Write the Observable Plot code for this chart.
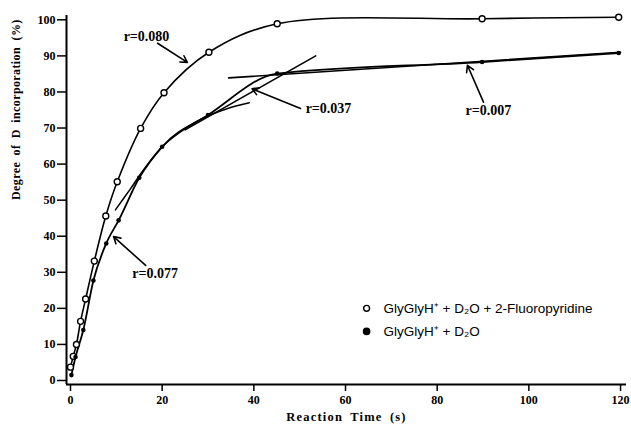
<!DOCTYPE html>
<html>
<head>
<meta charset="utf-8">
<script src="https://cdn.jsdelivr.net/npm/d3@7"></script>
<script src="https://cdn.jsdelivr.net/npm/@observablehq/plot@0.6"></script>
<style>
  body { margin: 0; background: #fff; }
  #chart svg { display: block; }
  .xttl { letter-spacing: 1.2px; word-spacing: 3px; }
  .yttl { letter-spacing: 0.4px; word-spacing: 3px; }
</style>
</head>
<body>
<div id="chart"></div>
<script>
// --- Data ---
// Open circles: GlyGlyH+ + D2O + 2-Fluoropyridine
const openTime  = [0, 0.6, 1.3, 2.2, 3.3, 5.2, 7.7, 10.2, 15.3, 20.4, 30.2, 45.1, 89.8, 119.6];
const openValue = [3.7, 6.7, 10, 16.4, 22.6, 33.1, 45.6, 55.1, 69.9, 79.8, 91, 98.9, 100.3, 100.7];
// Filled dots: GlyGlyH+ + D2O
const fillTime  = [0.2, 1.1, 2.8, 5, 7.8, 10.5, 15, 20, 30, 45.1, 89.8, 119.6];
const fillValue = [1.5, 6.5, 14, 27.7, 38, 44.4, 56.2, 64.8, 73.6, 85.1, 88.3, 90.8];
// Intermediate-stage fitted curve
const midTime  = [9.8, 13, 16, 20, 25, 29, 34, 39];
const midValue = [47.3, 53, 58.5, 64.8, 69.8, 72.8, 75.3, 77];
// Tangent lines
const tan037Time  = [25, 53.5];
const tan037Value = [69.5, 90];
const tan007Time  = [34.5, 120];
const tan007Value = [83.9, 91];
// Rate labels with arrows (text anchor point, arrow start, arrow end)
const rateLabels = ["r=0.080", "r=0.037", "r=0.007", "r=0.077"];
const labelX = [11.6, 51.3, 86.2, 13.5];
const labelY = [95.4, 75.4, 74.9, 29.7];
const arrowX1 = [19, 50.2, 90.1, 16.4];
const arrowY1 = [93.5, 75.4, 77.2, 31.9];
const arrowX2 = [25.5, 39.6, 86.6, 9.4];
const arrowY2 = [88.2, 80.9, 87.4, 39.9];
const legendLabels = ["GlyGlyH\u207A + D\u2082O + 2-Fluoropyridine", "GlyGlyH\u207A + D\u2082O"];
const xTicks = [0, 20, 40, 60, 80, 100, 120];
const yTicks = [0, 10, 20, 30, 40, 50, 60, 70, 80, 90, 100];

const zip = (xs, ys) => xs.map((x, i) => ({x, y: ys[i]}));
const openData = zip(openTime, openValue);
const fillData = zip(fillTime, fillValue);
const midData = zip(midTime, midValue);
const tan037 = zip(tan037Time, tan037Value);
const tan007 = zip(tan007Time, tan007Value);
const rates = rateLabels.map((t, i) => ({t, x: labelX[i], y: labelY[i], x1: arrowX1[i], y1: arrowY1[i], x2: arrowX2[i], y2: arrowY2[i]}));

const xmin = -0.87, ymin = -1.11;
const serif = "Liberation Serif, Times New Roman, serif";

const plot = Plot.plot({
  width: 631,
  height: 429,
  marginLeft: 66,
  marginRight: 5,
  marginTop: 15,
  marginBottom: 45,
  style: {fontFamily: serif, background: "#fff", color: "#000"},
  x: {domain: [xmin, 121.3]},
  y: {domain: [ymin, 101.2]},
  marks: [
    Plot.axisX({ticks: xTicks, tickSize: 7, tickPadding: 4, label: null, fontSize: 12, fontWeight: "bold", strokeWidth: 1.5}),
    Plot.axisY({ticks: yTicks, tickSize: 9, tickPadding: 2, label: null, fontSize: 12, fontWeight: "bold", strokeWidth: 1.5}),
    Plot.ruleX([xmin], {strokeWidth: 2}),
    Plot.ruleY([ymin], {strokeWidth: 2}),
    Plot.line(openData, {x: "x", y: "y", curve: "catmull-rom", strokeWidth: 1.6}),
    Plot.line(fillData, {x: "x", y: "y", curve: "monotone-x", strokeWidth: 1.8}),
    Plot.line(midData, {x: "x", y: "y", curve: "catmull-rom", strokeWidth: 1.5}),
    Plot.line(tan037, {x: "x", y: "y", strokeWidth: 1.6}),
    Plot.line(tan007, {x: "x", y: "y", strokeWidth: 1.6}),
    Plot.dot(openData, {x: "x", y: "y", r: 3, fill: "#fff", stroke: "#000", strokeWidth: 1.4}),
    Plot.dot(fillData, {x: "x", y: "y", r: 2.3, fill: "#000"}),
    Plot.arrow(rates, {x1: "x1", y1: "y1", x2: "x2", y2: "y2", strokeWidth: 1.6, headLength: 7}),
    Plot.text(rates, {x: "x", y: "y", text: "t", textAnchor: "start", fontSize: 14, fontWeight: "bold"}),
    Plot.dot(legendLabels, {x: () => 64.6, y: (d, i) => [20, 13.6][i], r: (d, i) => [2.5, 2.8][i], fill: (d, i) => ["#fff", "#000"][i], stroke: "#000", strokeWidth: 1.4}),
    Plot.text(legendLabels, {x: () => 68.3, y: (d, i) => [20, 13.6][i], text: d => d, textAnchor: "start", fontSize: 13.5, fontFamily: "Liberation Sans, Arial, sans-serif"}),
    Plot.text(["Reaction Time (s)"], {frameAnchor: "bottom", dy: 36, fontSize: 12.5, fontWeight: "bold", className: "xttl"}),
    Plot.text(["Degree of D incorporation (%)"], {frameAnchor: "left", dx: -50, rotate: -90, fontSize: 12, fontWeight: "bold", className: "yttl"})
  ]
});
document.getElementById("chart").appendChild(plot);
</script>
</body>
</html>
